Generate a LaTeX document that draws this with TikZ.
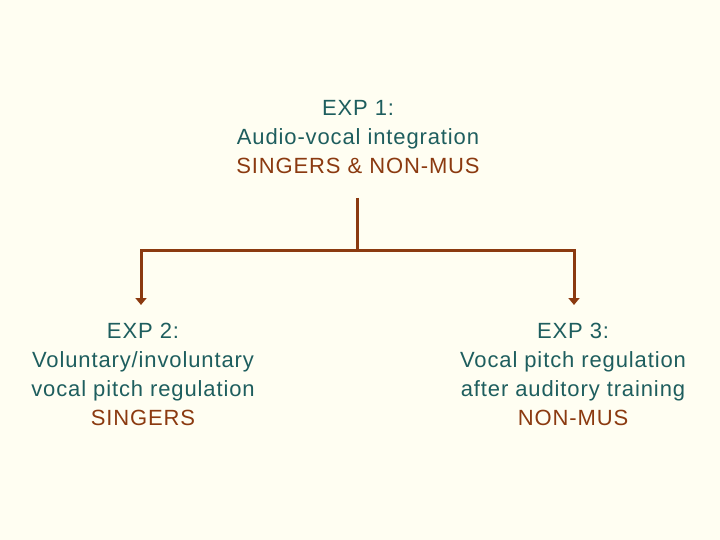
\documentclass[tikz,border=0pt]{standalone}
\usepackage{fontspec}
\setmainfont{Liberation Sans}[LetterSpace=4]
\usetikzlibrary{arrows.meta}
\definecolor{bg}{HTML}{FFFEF2}
\definecolor{teal}{HTML}{1E5E5E}
\definecolor{brn}{HTML}{8B3A10}
\begin{document}
\begin{tikzpicture}[x=1pt,y=-1pt,
  txt/.style={align=center,inner sep=0pt,text=teal,font=\fontsize{22}{29}\selectfont},
  conn/.style={draw=brn,line width=3pt},
  arr/.style={conn,-{Triangle[width=11pt,length=7pt]}}]
\fill[bg] (0,0) rectangle (720,540);
\useasboundingbox (0,0) rectangle (720,540);
\node[txt] (e1) at (358,137) {EXP 1:\\Audio-vocal integration\\\textcolor{brn}{SINGERS \& NON-MUS}};
\node[txt] (e2) at (143,374.5) {EXP 2:\\Voluntary/involuntary\\vocal pitch regulation\\\textcolor{brn}{SINGERS}};
\node[txt] (e3) at (573,374.5) {EXP 3:\\Vocal pitch regulation\\after auditory training\\\textcolor{brn}{NON-MUS}};
\coordinate (s) at (357,198);
\coordinate (j) at (357,250);
\coordinate (a2) at (141,305);
\coordinate (a3) at (574,305);
\draw[conn] (s) -- (j);
\draw[arr] ([xshift=1.5pt]j) -| (a2);
\draw[arr] ([xshift=-1.5pt]j) -| (a3);
\end{tikzpicture}
\end{document}
